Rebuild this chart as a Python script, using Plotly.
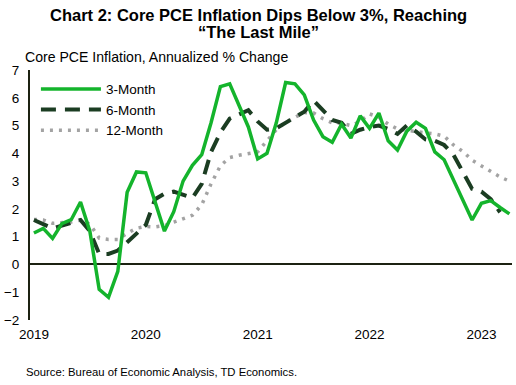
import plotly.graph_objects as go

# month index 0..51
three_month = [1.13, 1.3, 0.94, 1.47, 1.61, 2.25, 1.2, -0.9, -1.18, -0.25,
               2.6, 3.33, 3.3, 2.3, 1.2, 1.9, 3.0, 3.57, 3.95, 5.1,
               6.4, 6.5, 5.75, 4.95, 3.8, 4.0, 5.1, 6.55, 6.5, 6.1,
               5.2, 4.6, 4.4, 5.05, 4.55, 5.35, 4.9, 5.45, 4.45, 4.12,
               4.8, 5.12, 4.9, 4.05, 3.77, 3.05, 2.35, 1.6, 2.2, 2.3,
               2.05, 1.82]
six_month = [1.6, 1.45, 1.3, 1.4, 1.5, 1.6, 1.2, 0.38, 0.38, 0.5,
             0.8, 1.1, 1.42, 2.35, 2.55, 2.62, 2.5, 2.4, 2.9, 4.05,
             4.75, 5.25, 5.4, 5.55, 5.15, 4.85, 4.9, 5.1, 5.3, 5.5,
             5.9, 5.55, 5.2, 5.1, 4.7, 4.85, 4.95, 5.0, 4.88, 4.7,
             5.0, 4.78, 4.5, 4.45, 4.3, 3.95, 3.3, 2.72, 2.62, 2.35,
             1.88]
twelve_month = [1.62, 1.6, 1.48, 1.5, 1.53, 1.6, 1.45, 0.95, 0.9, 0.9,
                1.12, 1.3, 1.37, 1.35, 1.4, 1.52, 1.65, 1.77, 2.15, 2.9,
                3.55, 3.85, 3.93, 4.0, 4.05, 4.45, 4.85, 5.12, 5.3, 5.47,
                5.45, 5.25, 5.1, 5.08, 5.0, 5.15, 5.42, 5.3, 5.05, 4.88,
                4.83, 4.8, 4.74, 4.7, 4.62, 4.3, 4.07, 3.75, 3.55, 3.35,
                3.15, 3.0]
tick_positions = [0, 12, 24, 36, 48]
tick_labels = ["2019", "2020", "2021", "2022", "2023"]
y_ticks = [-2, -1, 0, 1, 2, 3, 4, 5, 6, 7]

FONT = "Liberation Sans, Arial, sans-serif"
AXIS_COLOR = "#1c2212"

fig = go.Figure()
fig.add_trace(go.Scatter(x=list(range(len(twelve_month))), y=twelve_month, mode="lines",
                         name="12-Month", line=dict(color="#a3a3a3", width=3.5, dash="3px,6px")))
fig.add_trace(go.Scatter(x=list(range(len(six_month))), y=six_month, mode="lines",
                         name="6-Month", line=dict(color="#1b3d22", width=4, dash="15px,9px")))
fig.add_trace(go.Scatter(x=list(range(len(three_month))), y=three_month, mode="lines",
                         name="3-Month", line=dict(color="#14b42c", width=3.5)))

fig.update_layout(
    width=516, height=385,
    margin=dict(l=25, r=4, t=70, b=65),
    paper_bgcolor="white", plot_bgcolor="white",
    font=dict(family=FONT, size=13.5, color="black"),
    showlegend=True,
    legend=dict(x=0.0123, y=0.985, xanchor="left", yanchor="top", traceorder="reversed",
                bgcolor="rgba(0,0,0,0)", font=dict(size=13.5), itemwidth=60,
                tracegroupgap=0),
    xaxis=dict(range=[-0.42, 51.28], tickvals=tick_positions, ticktext=tick_labels,
               showgrid=False, zeroline=False, showline=False, ticks="",
               tickfont=dict(size=13.5), ticklabelstandoff=4),
    yaxis=dict(range=[-2, 7], tickvals=y_ticks, showgrid=False,
               zeroline=True, zerolinecolor=AXIS_COLOR, zerolinewidth=2,
               showline=True, linecolor=AXIS_COLOR, linewidth=2, ticks="",
               tickfont=dict(size=13.5), ticklabelstandoff=6),
    annotations=[
        dict(text="<b>Chart 2: Core PCE Inflation Dips Below 3%, Reaching</b>",
             xref="paper", yref="paper", x=0.474, y=(320 - 15) / 250,
             xanchor="center", yanchor="middle", showarrow=False,
             font=dict(size=16.5, family=FONT)),
        dict(text="<b>“The Last Mile”</b>",
             xref="paper", yref="paper", x=0.474, y=(320 - 32) / 250,
             xanchor="center", yanchor="middle", showarrow=False,
             font=dict(size=16.5, family=FONT)),
        dict(text="Core PCE Inflation, Annualized % Change",
             xref="paper", yref="paper", x=0, y=(320 - 57) / 250,
             xanchor="left", yanchor="middle", showarrow=False, xshift=-7,
             font=dict(size=14.1, family=FONT)),
        dict(text="Source: Bureau of Economic Analysis, TD Economics.",
             xref="paper", yref="paper", x=0, y=(320 - 371.5) / 250,
             xanchor="left", yanchor="middle", showarrow=False, xshift=-6,
             font=dict(size=11.3, family=FONT)),
    ],
)

fig.write_html("out.html", config={"displayModeBar": False},
               post_script="document.body.style.margin='0';document.body.style.overflow='hidden';")
